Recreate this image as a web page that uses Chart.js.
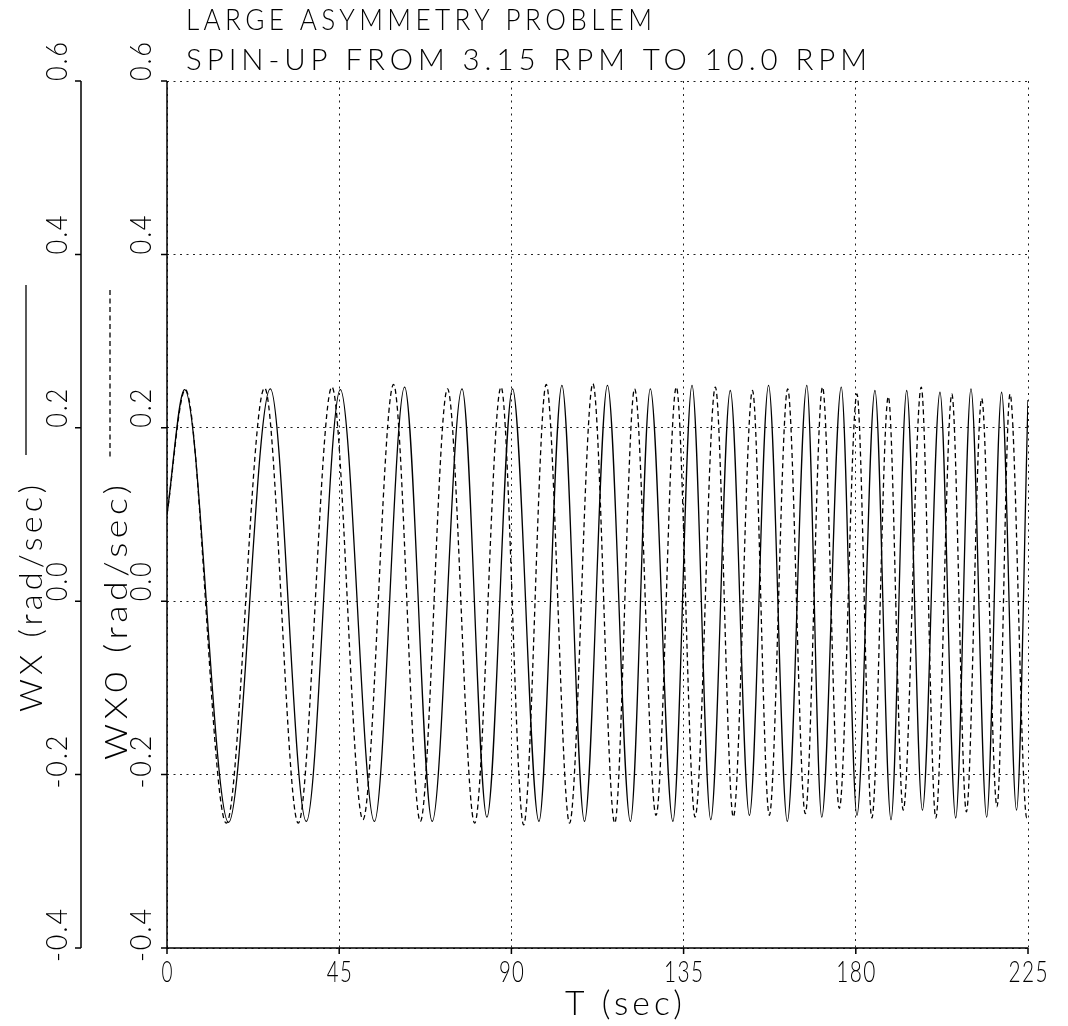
<!DOCTYPE html>
<html>
<head>
<meta charset="utf-8">
<script src="https://cdn.jsdelivr.net/npm/chart.js@4"></script>
<style>
  body { margin: 0; background: #fff; }
  #wrap { width: 1068px; height: 1026px; }
</style>
</head>
<body>
<div id="wrap"><canvas id="chart" width="1068" height="1026"></canvas></div>
<script>
// title lines
const titleLines = ["LARGE ASYMMETRY PROBLEM", "SPIN-UP FROM 3.15 RPM TO 10.0 RPM"];

// axis ticks
const xTicks = [0, 45, 90, 135, 180, 225];
const yTicks = [-0.4, -0.2, 0.0, 0.2, 0.4, 0.6];
const yTickLabels = ["-0.4", "-0.2", "0.0", "0.2", "0.4", "0.6"];

// WX (solid) - times of start, peaks/troughs, end (sec)
const wxTime = [0, 4.6, 16.1, 27.0, 36.4, 45.3, 54.2, 62.1, 69.3, 77.1, 83.6,
  90.3, 97.2, 103.2, 109.1, 115.1, 121.1, 126.3, 132.2, 137.2, 142.1,
  147.2, 152.2, 157.2, 162.1, 167.2, 171.1, 176.2, 180.3, 185.0, 189.2,
  193.3, 197.4, 202.0, 206.1, 210.1, 214.2, 218.1, 222.0, 225];
const wxValue = [0.100, 0.244, -0.255, 0.245, -0.254, 0.244, -0.254, 0.247, -0.254, 0.245, -0.249,
  0.245, -0.254, 0.249, -0.254, 0.249, -0.254, 0.245, -0.254, 0.249, -0.252,
  0.243, -0.247, 0.249, -0.254, 0.249, -0.249, 0.247, -0.247, 0.243, -0.252,
  0.243, -0.241, 0.241, -0.250, 0.245, -0.249, 0.241, -0.241, 0.232];

// WX0 (dashed)
const wx0Time = [0, 4.8, 15.5, 25.5, 34.3, 43.1, 51.2, 59.2, 66.2, 73.3, 80.4,
  87.3, 93.2, 99.1, 105.2, 111.3, 117.0, 122.2, 127.8, 133.1, 138.0,
  143.3, 148.0, 153.0, 157.4, 162.2, 166.8, 171.3, 175.7, 180.3, 184.2,
  188.5, 192.4, 197.1, 200.9, 205.1, 208.9, 212.9, 216.9, 220.3, 224.7, 225];
const wx0Value = [0.100, 0.244, -0.256, 0.246, -0.256, 0.247, -0.252, 0.250, -0.254, 0.245, -0.256,
  0.247, -0.258, 0.250, -0.256, 0.251, -0.256, 0.245, -0.247, 0.247, -0.249,
  0.247, -0.249, 0.243, -0.247, 0.245, -0.245, 0.247, -0.239, 0.239, -0.250,
  0.236, -0.241, 0.247, -0.250, 0.239, -0.243, 0.234, -0.237, 0.239, -0.250, -0.248];

const FONT = "Lato";

function toPoints(ts, vs) {
  return ts.map((t, i) => ({ x: t, y: vs[i] }));
}

// draw a string squeezed/stretched to a given width (plotter style lettering)
function plotText(ctx, str, x, y, o) {
  ctx.save();
  ctx.translate(x, y);
  if (o.rotate) ctx.rotate(-Math.PI / 2);
  ctx.font = "300 " + o.size + "px " + FONT;
  ctx.letterSpacing = (o.spacing || 0) + "px";
  const w = ctx.measureText(str).width - (o.spacing || 0);
  const target = o.width || w;
  ctx.scale(target / w, 1);
  let off = 0;
  if (o.align === "center") off = -w / 2;
  else if (o.align === "right") off = -w;
  ctx.fillStyle = "#000";
  ctx.textAlign = "left";
  ctx.textBaseline = "alphabetic";
  ctx.fillText(str, off, 0);
  ctx.restore();
}

const plotterAxes = {
  id: "plotterAxes",
  afterDraw(chart) {
    const ctx = chart.ctx;
    const xs = chart.scales.x;
    const yIn = chart.scales.yWX0;
    const yOut = chart.scales.yWX;
    const top = yIn.getPixelForValue(0.6);
    const bot = yIn.getPixelForValue(-0.4);
    const left = xs.getPixelForValue(0);
    const right = xs.getPixelForValue(225);
    const outerX = 81;

    ctx.save();
    ctx.strokeStyle = "#000";
    ctx.lineWidth = 1.5;
    ctx.setLineDash([]);
    ctx.beginPath();
    // inner axis + x axis
    ctx.moveTo(left, top);
    ctx.lineTo(left, bot + 6);
    ctx.moveTo(left - 6, bot);
    ctx.lineTo(right, bot);
    // outer axis
    ctx.moveTo(outerX, yOut.getPixelForValue(0.6));
    ctx.lineTo(outerX, yOut.getPixelForValue(-0.4));
    yTicks.forEach((v) => {
      const py = yIn.getPixelForValue(v);
      ctx.moveTo(left - 6, py);
      ctx.lineTo(left, py);
      const po = yOut.getPixelForValue(v);
      ctx.moveTo(outerX - 6, po);
      ctx.lineTo(outerX, po);
    });
    xTicks.forEach((v) => {
      const px = xs.getPixelForValue(v);
      ctx.moveTo(px, bot);
      ctx.lineTo(px, bot + 6);
    });
    ctx.stroke();

    // tick labels
    yTicks.forEach((v, i) => {
      const s = yTickLabels[i];
      const shift = s.startsWith("-") ? 14 : 0;
      plotText(ctx, s, left - 16, yIn.getPixelForValue(v) + shift,
        { size: 29, rotate: true, width: s.length * 14 - 3, spacing: 2 });
      plotText(ctx, s, outerX - 14, yOut.getPixelForValue(v) + shift,
        { size: 29, rotate: true, width: s.length * 14 - 3, spacing: 2 });
    });
    xTicks.forEach((v) => {
      const s = String(v);
      plotText(ctx, s, xs.getPixelForValue(v), bot + 34,
        { size: 30, align: "center", width: s.length * 14 - 3, spacing: 2 });
    });

    // axis titles
    plotText(ctx, "T (sec)", 565, 1015, { size: 33, width: 117, spacing: 4 });
    plotText(ctx, "WX (rad/sec)", 42, 712, { size: 31, rotate: true, width: 227, spacing: 4 });
    plotText(ctx, "WX0 (rad/sec)", 127, 760, { size: 31, rotate: true, width: 275, spacing: 4 });

    // legend samples next to the axis titles
    ctx.lineWidth = 1.3;
    ctx.beginPath();
    ctx.moveTo(26, 285);
    ctx.lineTo(26, 455);
    ctx.stroke();
    ctx.setLineDash([5, 3.5]);
    ctx.beginPath();
    ctx.moveTo(110, 290);
    ctx.lineTo(110, 460);
    ctx.stroke();
    ctx.setLineDash([]);

    // title
    plotText(ctx, titleLines[0], 186, 30, { size: 30, width: 466, spacing: 5 });
    plotText(ctx, titleLines[1], 186, 70, { size: 30, width: 681, spacing: 5 });
    ctx.restore();
  },
};

new Chart(document.getElementById("chart"), {
  type: "line",
  data: {
    datasets: [
      {
        label: "WX",
        data: toPoints(wxTime, wxValue),
        yAxisID: "yWX",
        borderColor: "#000",
        borderWidth: 1.3,
        pointRadius: 0,
        cubicInterpolationMode: "monotone",
      },
      {
        label: "WX0",
        data: toPoints(wx0Time, wx0Value),
        yAxisID: "yWX0",
        borderColor: "#000",
        borderWidth: 1.3,
        borderDash: [5, 3.5],
        pointRadius: 0,
        cubicInterpolationMode: "monotone",
      },
    ],
  },
  options: {
    responsive: false,
    animation: false,
    devicePixelRatio: 1,
    layout: { padding: { left: 167, right: 40, top: 81, bottom: 78 } },
    plugins: { legend: { display: false }, tooltip: { enabled: false } },
    scales: {
      x: {
        type: "linear",
        min: 0,
        max: 225,
        ticks: { display: false, stepSize: 45 },
        grid: { color: "#222", lineWidth: 1, drawTicks: false },
        border: { display: false, dash: [2, 4.5] },
      },
      yWX0: {
        position: "left",
        min: -0.4,
        max: 0.6,
        ticks: { display: false, stepSize: 0.2 },
        grid: { color: "#222", lineWidth: 1, drawTicks: false },
        border: { display: false, dash: [2, 4.5] },
      },
      yWX: {
        position: "left",
        display: false,
        min: -0.4,
        max: 0.6,
      },
    },
  },
  plugins: [plotterAxes],
});
</script>
</body>
</html>
